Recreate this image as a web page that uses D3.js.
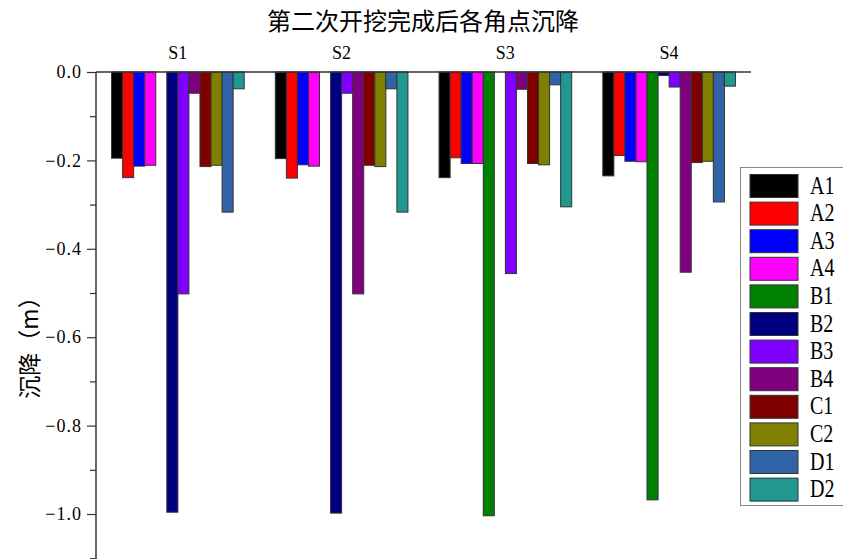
<!DOCTYPE html>
<html>
<head>
<meta charset="utf-8">
<script src="https://cdn.jsdelivr.net/npm/d3@7/dist/d3.min.js"></script>
<style>
  html, body { margin: 0; padding: 0; background: #fff; }
  svg { display: block; }
</style>
</head>
<body>
<svg id="chart" width="843" height="559"></svg>
<script>
// Settlement of each corner point after the second excavation stage
const stations = ["S1", "S2", "S3", "S4"];
const seriesNames = ["A1", "A2", "A3", "A4", "B1", "B2", "B3", "B4", "C1", "C2", "D1", "D2"];
const seriesColors = ["#000000", "#ff0000", "#0000ff", "#ff00ff", "#008000", "#000080",
                      "#8000ff", "#800080", "#800000", "#808000", "#3064a6", "#20978f"];

// settlement (m) per station, in series order; null = no reading
const valuesS1 = [-0.195, -0.239, -0.213, -0.211, null, -0.996, -0.502, -0.048, -0.214, -0.211, -0.317, -0.038];
const valuesS2 = [-0.196, -0.240, -0.210, -0.213, null, -0.998, -0.048, -0.502, -0.211, -0.214, -0.038, -0.317];
const valuesS3 = [-0.239, -0.194, -0.207, -0.207, -1.004, null, -0.456, -0.039, -0.207, -0.210, -0.029, -0.305];
const valuesS4 = [-0.235, -0.189, -0.202, -0.203, -0.968, -0.008, -0.034, -0.453, -0.205, -0.202, -0.294, -0.032];

const yTicks = [0, -0.2, -0.4, -0.6, -0.8, -1.0];
const yMinorTicks = [-0.1, -0.3, -0.5, -0.7, -0.9, -1.1];

const table = [valuesS1, valuesS2, valuesS3, valuesS4];

const svg = d3.select("#chart");
const plotLeft = 96, plotRight = 751, plotTop = 72;

const x0 = d3.scaleBand().domain(stations).range([plotLeft, plotRight])
  .paddingInner(0.19).paddingOuter(0.095);
const x1 = d3.scaleBand().domain(seriesNames).range([0, x0.bandwidth()]).padding(0);
const y = d3.scaleLinear().domain([0, -1.1]).range([plotTop, plotTop + 1.1 * 442]);
const color = d3.scaleOrdinal().domain(seriesNames).range(seriesColors);

// bars
const groups = svg.append("g").selectAll("g")
  .data(stations.map((s, i) => ({ station: s, values: table[i] })))
  .join("g")
  .attr("transform", d => `translate(${x0(d.station)},0)`);

groups.selectAll("rect")
  .data(d => d.values.map((v, j) => ({ name: seriesNames[j], value: v })).filter(d => d.value !== null))
  .join("rect")
  .attr("x", d => x1(d.name))
  .attr("y", y(0))
  .attr("width", x1.bandwidth())
  .attr("height", d => y(d.value) - y(0))
  .attr("fill", d => color(d.name))
  .attr("stroke", "#333")
  .attr("stroke-width", 1);

// station labels above each group
svg.append("g").selectAll("text")
  .data(stations)
  .join("text")
  .attr("x", d => x0(d) + x0.bandwidth() / 2)
  .attr("y", 59)
  .attr("text-anchor", "middle")
  .attr("font-family", "Liberation Serif, serif")
  .attr("font-size", 18)
  .attr("fill", "#000")
  .text(d => d);

// y axis
const fmt = v => (v < 0 ? "\u2212" : "") + Math.abs(v).toFixed(1);
const yAxis = d3.axisLeft(y).tickValues(yTicks).tickFormat(fmt).tickSizeInner(9).tickSizeOuter(0).tickPadding(5);
const gy = svg.append("g").attr("transform", `translate(${plotLeft},0)`).call(yAxis);
gy.attr("font-family", null);
gy.select(".domain").remove();
gy.selectAll(".tick line").attr("stroke", "#333").attr("stroke-width", 1.2);
gy.selectAll(".tick text")
  .attr("font-family", "Liberation Serif, serif")
  .attr("font-size", 18)
  .attr("letter-spacing", "1px")
  .attr("fill", "#000");

const yMinor = d3.axisLeft(y).tickValues(yMinorTicks).tickFormat("").tickSizeInner(6).tickSizeOuter(0);
const gym = svg.append("g").attr("transform", `translate(${plotLeft},0)`).call(yMinor);
gym.select(".domain").remove();
gym.selectAll(".tick line").attr("stroke", "#333").attr("stroke-width", 1.2);

// axis frame lines
svg.append("line").attr("x1", plotLeft).attr("x2", plotLeft).attr("y1", plotTop).attr("y2", y(-1.1) + 1)
  .attr("stroke", "#333").attr("stroke-width", 1.5);
svg.append("line").attr("x1", plotLeft).attr("x2", plotRight).attr("y1", plotTop).attr("y2", plotTop)
  .attr("stroke", "#333").attr("stroke-width", 1.5);

// title
svg.append("text")
  .attr("x", 423).attr("y", 30)
  .attr("text-anchor", "middle")
  .attr("font-family", "Noto Sans CJK SC, sans-serif")
  .attr("font-size", 24)
  .attr("fill", "#000")
  .text("第二次开挖完成后各角点沉降");

// y axis title
svg.append("text")
  .attr("transform", "translate(38,342) rotate(-90)")
  .attr("text-anchor", "middle")
  .attr("font-family", "Noto Sans CJK SC, sans-serif")
  .attr("font-size", 23)
  .attr("fill", "#000")
  .text("沉降（m）");

// legend
const legend = svg.append("g").attr("transform", "translate(740,167)");
legend.append("rect")
  .attr("x", 0.5).attr("y", 0.5).attr("width", 110).attr("height", 338)
  .attr("fill", "#fff").attr("stroke", "#888").attr("stroke-width", 1);
const items = legend.selectAll("g.item")
  .data(seriesNames)
  .join("g")
  .attr("class", "item")
  .attr("transform", (d, i) => `translate(0,${7.5 + i * 27.6})`);
items.append("rect")
  .attr("x", 10).attr("y", 0).attr("width", 48).attr("height", 23)
  .attr("fill", d => color(d))
  .attr("stroke", "#333").attr("stroke-width", 1);
items.append("text")
  .attr("transform", "translate(70,19) scale(0.8,1)")
  .attr("font-family", "Liberation Serif, serif")
  .attr("font-size", 25)
  .attr("fill", "#000")
  .text(d => d);
</script>
</body>
</html>
